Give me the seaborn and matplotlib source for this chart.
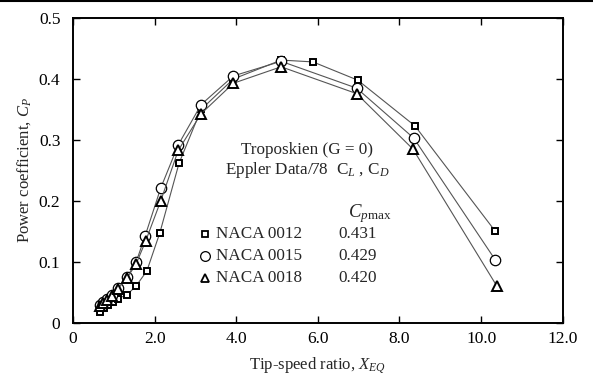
import matplotlib
matplotlib.use("Agg")
import matplotlib.pyplot as plt
import seaborn as sns
import pandas as pd
from matplotlib.lines import Line2D

# ---- data ----
x_0012 = [0.66, 0.76, 0.86, 0.98, 1.10, 1.32, 1.54, 1.81, 2.13, 2.60, 3.14, 3.93, 5.10, 5.88, 6.98, 8.38, 10.35]
cp_0012 = [0.018, 0.025, 0.030, 0.035, 0.040, 0.046, 0.060, 0.085, 0.148, 0.262, 0.350, 0.400, 0.431, 0.428, 0.398, 0.323, 0.150]

x_0015 = [0.66, 0.74, 0.84, 0.96, 1.10, 1.32, 1.55, 1.77, 2.15, 2.58, 3.14, 3.93, 5.10, 6.95, 8.35, 10.35]
cp_0015 = [0.030, 0.034, 0.040, 0.046, 0.058, 0.075, 0.100, 0.143, 0.221, 0.292, 0.358, 0.405, 0.429, 0.385, 0.303, 0.103]

x_0018 = [0.66, 0.74, 0.84, 0.96, 1.10, 1.32, 1.55, 1.78, 2.15, 2.58, 3.14, 3.93, 5.10, 6.95, 8.33, 10.38]
cp_0018 = [0.028, 0.033, 0.038, 0.044, 0.056, 0.073, 0.097, 0.134, 0.200, 0.283, 0.343, 0.393, 0.420, 0.376, 0.285, 0.061]

series_names = ["NACA 0012", "NACA 0015", "NACA 0018"]
cpmax_values = ["0.431", "0.429", "0.420"]
x_ticks = [0, 2, 4, 6, 8, 10, 12]
x_ticklabels = ["0", "2.0", "4.0", "6.0", "8.0", "10.0", "12.0"]
y_ticks = [0, 0.1, 0.2, 0.3, 0.4, 0.5]
y_ticklabels = ["0", "0.1", "0.2", "0.3", "0.4", "0.5"]

sns.set_style("ticks")
plt.rcParams["font.family"] = ["Liberation Serif", "DejaVu Serif"]
plt.rcParams["mathtext.fontset"] = "custom"
plt.rcParams["mathtext.rm"] = "Liberation Serif"
plt.rcParams["mathtext.it"] = "Liberation Serif:italic"

fig = plt.figure(figsize=(5.93, 3.79), dpi=100)
ax = fig.add_axes([0.123, 0.148, 0.826, 0.8045])

markers = ["s", "o", "^"]
msizes = [5, 7.5, 6.5]
data = [(x_0012, cp_0012), (x_0015, cp_0015), (x_0018, cp_0018)]
for (xs, ys), m, ms in zip(data, markers, msizes):
    df = pd.DataFrame({"x": xs, "cp": ys})
    sns.lineplot(data=df, x="x", y="cp", ax=ax, sort=False, estimator=None,
                 color="#555555", linewidth=0.8, marker=m, markersize=ms,
                 markerfacecolor="white", markeredgecolor="black",
                 markeredgewidth=1.4 if m != "o" else 0.9)

ax.set_xlim(0, 12)
ax.set_ylim(0, 0.5)
ax.set_xticks(x_ticks)
ax.set_xticklabels(x_ticklabels)
ax.set_yticks(y_ticks)
ax.set_yticklabels(y_ticklabels)
ax.tick_params(direction="in", top=True, right=True, length=5, width=1,
               labelsize=12.5, colors="black")
ax.tick_params(axis="y", pad=9)
ax.tick_params(axis="x", pad=6)
for s in ax.spines.values():
    s.set_linewidth(1.4)
    s.set_color("black")

ax.set_xlabel("Tip-speed ratio, $X_{EQ}$", fontsize=12, labelpad=6)
ax.set_ylabel("Power coefficient, $C_P$", fontsize=12, labelpad=4)

# annotations
ax.text(5.74, 0.284, "Troposkien (G = 0)", ha="center", va="center", fontsize=12.3)
ax.text(5.74, 0.250, "Eppler Data/78  C$_L$ , C$_D$", ha="center", va="center", fontsize=12.3)
ax.text(6.74, 0.180, "$C_{p\\mathrm{max}}$", ha="left", va="center", fontsize=13.5)
rows_y = [0.146, 0.110, 0.074]
for name, val, m, ms, yy in zip(series_names, cpmax_values, markers, msizes, rows_y):
    ax.plot([3.24], [yy], marker=m, markersize=ms - 0.5, markerfacecolor="white",
            markeredgecolor="black", markeredgewidth=1.3 if m != "o" else 0.9,
            linestyle="none")
    ax.text(3.50, yy, name, ha="left", va="center", fontsize=12.3)
    ax.text(6.50, yy, val, ha="left", va="center", fontsize=12.3)

# top rule
fig.add_artist(Line2D([0, 1], [0.997, 0.997], color="black", linewidth=1.5,
                      transform=fig.transFigure))

fig.savefig("out.png", dpi=100)
